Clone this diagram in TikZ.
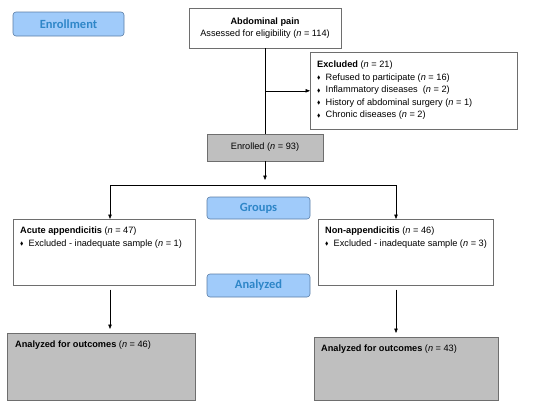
\documentclass[tikz,border=0pt]{standalone}
\usepackage{fontspec}
\usepackage{amssymb}
\setmainfont{Liberation Sans}
\newfontfamily\labelfont{Carlito}
\usetikzlibrary{arrows.meta}
\definecolor{labfill}{RGB}{160,203,250}
\definecolor{labdraw}{RGB}{90,125,165}
\definecolor{labtext}{RGB}{46,134,200}
\definecolor{boxgray}{RGB}{191,191,191}
\definecolor{boxline}{RGB}{110,110,110}
\newcommand{\bul}{\makebox[8.5pt][l]{\raisebox{0.6pt}{\scalebox{0.55}{$\blacklozenge$}}}}
\newcommand{\nn}{\textit{n}}
\tikzset{
  stage/.style={draw=labdraw, fill=labfill, rounded corners=3pt, line width=0.6pt,
    text=labtext, font=\labelfont\bfseries\fontsize{12.5}{13}\selectfont,
    minimum width=103pt, minimum height=22pt, inner sep=0pt},
  box/.style={draw=boxline, line width=0.6pt, inner sep=0pt},
  txt/.style={font=\fontsize{9.2}{12.5}\selectfont, inner sep=0pt, align=left},
  arr/.style={-{Triangle[length=4.5pt,width=3.5pt]}, line width=0.6pt}
}
\begin{document}
\begin{tikzpicture}[x=1pt,y=-1pt]
            \useasboundingbox (0,0) rectangle (550,407);
            % stage labels
            \draw (68.5,24) node[stage, minimum width=111pt, minimum height=24pt] (enrol) {Enrollment};
            \draw (258.5,208) node[stage] (groups) {Groups};
            \draw (258.5,285.5) node[stage, minimum height=23pt] (analyzed) {Analyzed};
            % boxes
            \draw (265,28) node[box, fill=white, minimum width=152pt, minimum height=40pt] (pain) {};
            \draw (310,52) node[box, anchor=north west, minimum width=207pt, minimum height=77pt] (excl) {};
            \draw (265,147.5) node[box, fill=boxgray, minimum width=116pt, minimum height=27pt] (enrolled) {};
            \draw (13,219) node[box, anchor=north west, minimum width=182pt, minimum height=66pt] (acute) {};
            \draw (318,219) node[box, anchor=north west, minimum width=175pt, minimum height=66pt] (nonapp) {};
            \draw (7,333) node[box, fill=boxgray, anchor=north west, minimum width=188pt, minimum height=67pt] (outl) {};
            \draw (314,337) node[box, fill=boxgray, anchor=north west, minimum width=184pt, minimum height=63pt] (outr) {};
            % texts
            \node[txt, align=center] (paintxt) at (pain) {\textbf{Abdominal pain}\\Assessed for eligibility (\nn{} = 114)};
            \node[txt, anchor=north west] (excltxt) at (317,61) {\textbf{Excluded} (\nn{} = 21)\\
              \bul Refused to participate (\nn{} = 16)\\
              \bul Inflammatory diseases~ (\nn{} = 2)\\
              \bul History of abdominal surgery (\nn{} = 1)\\
              \bul Chronic diseases (\nn{} = 2)};
            \node[txt] (enrolledtxt) at (enrolled) {Enrolled (\nn{} = 93)};
            \node[txt, anchor=north west] (acutetxt) at (20,227) {\textbf{Acute appendicitis} (\nn{} = 47)\\
              \bul Excluded - inadequate sample (\nn{} = 1)};
            \node[txt, anchor=north west] (nonapptxt) at (325,227) {\textbf{Non-appendicitis} (\nn{} = 46)\\
              \bul Excluded - inadequate sample (\nn{} = 3)};
            \node[txt, anchor=north west] (outltxt) at (15,341) {\textbf{Analyzed for outcomes} (\nn{} = 46)};
            \node[txt, anchor=north west] (outrtxt) at (321,345) {\textbf{Analyzed for outcomes} (\nn{} = 43)};
            % connectors
            \coordinate (split) at (265,180);
            \coordinate (splitl) at (110,185);
            \coordinate (splitr) at (396,185);
            \draw[line width=0.6pt] (pain.south) -- (enrolled.north);
            \draw[arr] (pain.south |- excl.west) -- (excl.west);
            \draw[arr] (enrolled.south) -- (split);
            \draw[line width=0.6pt] (splitl) -- (splitr);
            \draw[arr] (splitl) -- (splitl |- acute.north);
            \draw[arr] (splitr) -- (splitr |- nonapp.north);
            \draw[arr, shorten <=4pt, shorten >=4pt] (splitl |- acute.south) -- (splitl |- outl.north);
            \draw[arr, shorten <=4pt, shorten >=4pt] (splitr |- nonapp.south) -- (splitr |- outr.north);
        \end{tikzpicture}
\end{document}
